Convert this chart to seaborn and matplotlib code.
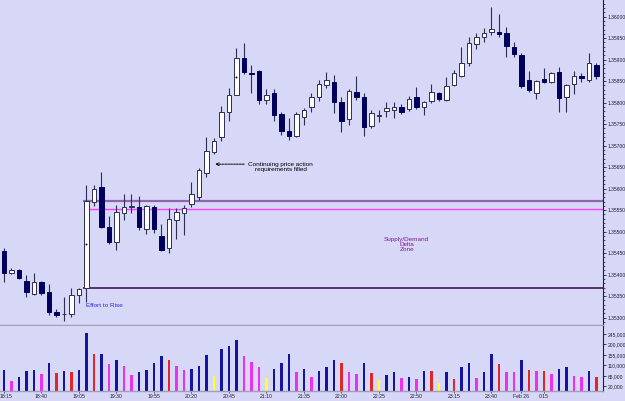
import numpy as np
import pandas as pd
import matplotlib
matplotlib.use("Agg")
import matplotlib.pyplot as plt
import matplotlib.transforms as mtrans
from matplotlib.ticker import MultipleLocator
import seaborn as sns

# 5-minute bars, 18:15 -> 00:50
opens = [1.35455, 1.35404, 1.35411, 1.35385, 1.35355, 1.35383, 1.35360, 1.35313, 1.35308, 1.35308,
         1.35353, 1.35369, 1.35569, 1.35604, 1.35511, 1.35476, 1.35543, 1.35557, 1.35557, 1.35506,
         1.35557, 1.35490, 1.35462, 1.35527, 1.35543, 1.35564, 1.35581, 1.35636, 1.35685, 1.35720,
         1.35778, 1.35818, 1.35904, 1.35869, 1.35874, 1.35806, 1.35823, 1.35774, 1.35734, 1.35722,
         1.35767, 1.35790, 1.35813, 1.35841, 1.35848, 1.35802, 1.35762, 1.35825, 1.35813, 1.35746,
         1.35769, 1.35781, 1.35783, 1.35790, 1.35785, 1.35813, 1.35790, 1.35804, 1.35823, 1.35806,
         1.35841, 1.35862, 1.35892, 1.35937, 1.35953, 1.35964, 1.35964, 1.35962, 1.35930, 1.35911,
         1.35853, 1.35823, 1.35855, 1.35848, 1.35871, 1.35813, 1.35843, 1.35862, 1.35853, 1.35888]
highs = [1.35462, 1.35415, 1.35413, 1.35399, 1.35404, 1.35385, 1.35378, 1.35320, 1.35348, 1.35369,
         1.35369, 1.35608, 1.35608, 1.35639, 1.35536, 1.35562, 1.35588, 1.35588, 1.35583, 1.35562,
         1.35562, 1.35518, 1.35555, 1.35555, 1.35562, 1.35615, 1.35648, 1.35720, 1.35718, 1.35792,
         1.35834, 1.35927, 1.35939, 1.35888, 1.35876, 1.35832, 1.35832, 1.35778, 1.35764, 1.35778,
         1.35788, 1.35823, 1.35853, 1.35871, 1.35864, 1.35813, 1.35832, 1.35862, 1.35823, 1.35783,
         1.35783, 1.35802, 1.35802, 1.35797, 1.35816, 1.35836, 1.35804, 1.35843, 1.35825, 1.35860,
         1.35876, 1.35930, 1.35953, 1.35962, 1.35974, 1.36023, 1.36006, 1.35976, 1.35941, 1.35916,
         1.35874, 1.35853, 1.35881, 1.35871, 1.35883, 1.35843, 1.35874, 1.35869, 1.35916, 1.35892]
lows = [1.35383, 1.35401, 1.35390, 1.35348, 1.35353, 1.35353, 1.35306, 1.35301, 1.35292, 1.35301,
        1.35334, 1.35336, 1.35560, 1.35509, 1.35471, 1.35457, 1.35527, 1.35543, 1.35504, 1.35495,
        1.35497, 1.35455, 1.35450, 1.35483, 1.35492, 1.35557, 1.35574, 1.35627, 1.35681, 1.35711,
        1.35757, 1.35818, 1.35867, 1.35823, 1.35797, 1.35797, 1.35757, 1.35725, 1.35713, 1.35720,
        1.35748, 1.35778, 1.35804, 1.35834, 1.35776, 1.35732, 1.35748, 1.35806, 1.35722, 1.35741,
        1.35755, 1.35767, 1.35764, 1.35774, 1.35781, 1.35785, 1.35771, 1.35799, 1.35804, 1.35804,
        1.35839, 1.35860, 1.35885, 1.35925, 1.35941, 1.35957, 1.35953, 1.35906, 1.35906, 1.35834,
        1.35825, 1.35809, 1.35846, 1.35846, 1.35778, 1.35778, 1.35820, 1.35848, 1.35848, 1.35855]
closes = [1.35404, 1.35411, 1.35392, 1.35360, 1.35383, 1.35357, 1.35313, 1.35306, 1.35309, 1.35353,
          1.35367, 1.35571, 1.35599, 1.35511, 1.35476, 1.35546, 1.35557, 1.35560, 1.35511, 1.35560,
          1.35506, 1.35457, 1.35529, 1.35546, 1.35555, 1.35588, 1.35643, 1.35688, 1.35711, 1.35778,
          1.35818, 1.35904, 1.35871, 1.35867, 1.35806, 1.35818, 1.35771, 1.35734, 1.35722, 1.35774,
          1.35783, 1.35813, 1.35843, 1.35853, 1.35802, 1.35757, 1.35827, 1.35813, 1.35743, 1.35776,
          1.35771, 1.35788, 1.35790, 1.35778, 1.35809, 1.35790, 1.35802, 1.35825, 1.35809, 1.35839,
          1.35869, 1.35892, 1.35939, 1.35953, 1.35962, 1.35971, 1.35960, 1.35932, 1.35913, 1.35839,
          1.35830, 1.35850, 1.35848, 1.35869, 1.35811, 1.35841, 1.35862, 1.35857, 1.35892, 1.35862]

volumes = [91000, 45000, 62000, 84000, 91000, 74000, 122000, 79000, 87000, 81000,
           91000, 248000, 159000, 159000, 117000, 131000, 108000, 69000, 81000, 91000,
           120000, 152000, 134000, 108000, 91000, 94000, 108000, 155000, 65000, 181000,
           194000, 219000, 152000, 125000, 105000, 55000, 94000, 122000, 158000, 81000,
           94000, 62000, 87000, 101000, 134000, 120000, 81000, 74000, 122000, 77000,
           48000, 69000, 81000, 55000, 62000, 52000, 87000, 87000, 34000, 81000,
           51000, 105000, 122000, 55000, 81000, 159000, 117000, 81000, 81000, 131000,
           91000, 84000, 84000, 72000, 95000, 102000, 65000, 62000, 87000, 62000]
vol_kind = ["b", "m", "b", "b", "b", "m", "b", "r", "b", "r",
            "b", "b", "r", "b", "m", "b", "m", "m", "b", "b",
            "b", "b", "r", "m", "m", "b", "b", "b", "y", "b",
            "b", "b", "m", "m", "m", "y", "b", "b", "b", "m",
            "b", "m", "b", "b", "b", "r", "m", "m", "b", "r",
            "y", "b", "b", "m", "b", "m", "b", "r", "y", "b",
            "r", "b", "b", "m", "b", "b", "r", "m", "m", "b",
            "r", "m", "r", "m", "b", "b", "m", "m", "b", "r"]

time_tick_bars = [0, 5, 10, 15, 20, 25, 30, 35, 40, 45, 50, 55, 60, 65, 69, 72]
time_tick_labels = ["18:15", "18:40", "19:05", "19:30", "19:55", "20:20", "20:45", "21:10",
                    "21:35", "22:00", "22:25", "22:50", "23:15", "23:40", "Feb 26", "0:15"]
price_ticks = [1.3530, 1.3535, 1.3540, 1.3545, 1.3550, 1.3555, 1.3560,
               1.3565, 1.3570, 1.3575, 1.3580, 1.3585, 1.3590, 1.3595, 1.3600]
volume_ticks = [20000, 65000, 110000, 155000, 200000, 245000]

# supply / demand zone
zone_start_bar = 10.6
zone_top = 1.35571
zone_mid = 1.35553
zone_bottom = 1.35369
marker_bars = [11, 31]
marker_prices = [1.35471, 1.35860]

BG = "#D7D7F8"
BULL_FILL = "white"
BEAR_FILL = "#00005C"
CANDLE_EDGE = "#2E2E50"
AXIS_COL = "#202030"
vol_palette = {"b": "#14149E", "m": "#EE30EE", "r": "#E02626", "y": "#FFFF2E"}

sns.set_theme(style="white")
plt.rcParams["font.family"] = ["Liberation Sans", "DejaVu Sans"]

fig = plt.figure(figsize=(6.25, 4.01), dpi=100, facecolor=BG)
ax = fig.add_axes([0, 76 / 401, 603 / 625, 325 / 401], facecolor=BG)
ax_vol = fig.add_axes([0, 10 / 401, 603 / 625, 65 / 401], facecolor=BG)

df = pd.DataFrame({"bar": np.arange(len(opens)), "open": opens, "high": highs,
                   "low": lows, "close": closes, "volume": volumes, "kind": vol_kind})
df["bull"] = df["close"] >= df["open"]

# candles
ax.vlines(df["bar"], df["low"], df["high"], color=CANDLE_EDGE, lw=0.8, zorder=2)
body_lo = df[["open", "close"]].min(axis=1)
body_h = (df["close"] - df["open"]).abs().clip(lower=0.000012)
ax.bar(df["bar"], body_h, bottom=body_lo, width=0.66,
       color=np.where(df["bull"], BULL_FILL, BEAR_FILL),
       edgecolor=np.where(df["bull"], CANDLE_EDGE, BEAR_FILL), linewidth=0.7, zorder=3)
sns.scatterplot(x=marker_bars, y=marker_prices, color="black", s=2, marker="o",
                linewidth=0, ax=ax, zorder=4)

x_right = 79.87
ax.hlines(zone_top, zone_start_bar, x_right, color="#9462B0", lw=1.6, zorder=1)
ax.hlines(zone_mid, zone_start_bar + 0.7, x_right, color="#FF3CFF", lw=1.0, zorder=1)
ax.hlines(zone_bottom, zone_start_bar, x_right, color="#3A0052", lw=1.1, zorder=1)

ax.text(10.93, 1.35328, "Effort to Rise", color="#2A2AD0", fontsize=4.6,
        ha="left", va="center")
ax.text(36.9, 1.35650, "Continuing price action\nrequirements filled", color="black",
        fontsize=4.6, ha="center", va="center", linespacing=1.05)
ax.annotate("", xy=(27.8, 1.35657), xytext=(32.4, 1.35657),
            arrowprops=dict(arrowstyle="->", color="black", lw=0.7,
                            linestyle=(0, (2, 1)), mutation_scale=5))
ax.text(53.7, 1.35470, "Supply/Demand\nDelta\nZone", color="#7E1A8E", fontsize=4.6,
        ha="center", va="center", linespacing=1.05)

ax.set_xlim(-0.533, x_right)
ax.set_ylim(1.352829, 1.360388)
ax.yaxis.tick_right()
ax.set_yticks(price_ticks)
ax.set_yticklabels([f"{p:.5f}" for p in price_ticks])
ax.yaxis.set_minor_locator(MultipleLocator(0.0001))
ax.set_xticks([])
ax.tick_params(axis="y", which="major", right=True, direction="out", length=2.5,
               width=0.6, color=AXIS_COL, labelsize=3.6, pad=0.6, labelcolor=AXIS_COL)
ax.tick_params(axis="y", which="minor", right=True, direction="out", length=1.4,
               width=0.5, color=AXIS_COL)

# volume panel
sns.barplot(data=df, x="bar", y="volume", hue="kind", palette=vol_palette, dodge=False,
            width=0.32, saturation=1, legend=False, linewidth=0, edgecolor="none",
            ax=ax_vol)
ax_vol.set_xlim(-0.533, x_right)
ax_vol.set_ylim(0, 279000)
ax_vol.yaxis.tick_right()
ax_vol.set_yticks(volume_ticks)
ax_vol.set_yticklabels([f"{v:,.0f}" for v in volume_ticks])
ax_vol.set_xticks(time_tick_bars)
ax_vol.set_xticklabels(time_tick_labels)
ax_vol.set_xlabel("")
ax_vol.set_ylabel("")
ax_vol.tick_params(axis="y", right=True, direction="out", length=2.5, width=0.6,
                   color=AXIS_COL, labelsize=3.6, pad=0.6, labelcolor=AXIS_COL)
ax_vol.tick_params(axis="x", bottom=True, direction="out", length=1.5, width=0.5,
                   color=AXIS_COL, labelsize=3.7, pad=0.8, labelcolor=AXIS_COL)
# first time label sits at the left edge, keep it inside the canvas
first = ax_vol.get_xticklabels()[0]
first.set_horizontalalignment("left")
first.set_transform(first.get_transform()
                    + mtrans.ScaledTranslation(-4 / 100, 0, fig.dpi_scale_trans))

for a in (ax, ax_vol):
    for side in ("left", "top"):
        a.spines[side].set_visible(False)
    a.spines["right"].set_color(AXIS_COL)
    a.spines["right"].set_linewidth(0.8)
    a.spines["bottom"].set_color("#A0A0B4")
    a.spines["bottom"].set_linewidth(1.0)

fig.savefig("out.png", dpi=100, facecolor=BG)
